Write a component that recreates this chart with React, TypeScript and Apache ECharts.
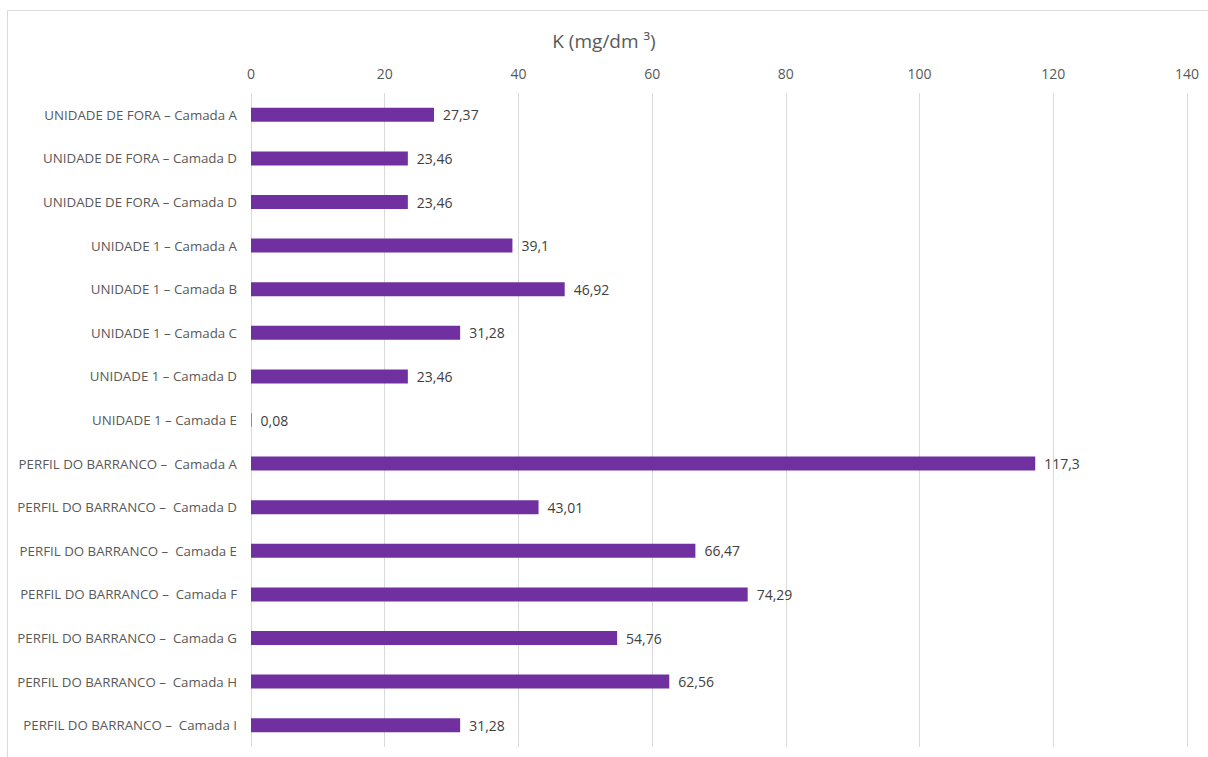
import React, { useEffect, useRef } from "react";
import * as echarts from "echarts";

// Soil samples, top to bottom as listed
const categories: string[] = [
  "UNIDADE DE FORA – Camada A",
  "UNIDADE DE FORA – Camada D",
  "UNIDADE DE FORA – Camada D",
  "UNIDADE 1 – Camada A",
  "UNIDADE 1 – Camada B",
  "UNIDADE 1 – Camada C",
  "UNIDADE 1 – Camada D",
  "UNIDADE 1 – Camada E",
  "PERFIL DO BARRANCO –  Camada A",
  "PERFIL DO BARRANCO –  Camada D",
  "PERFIL DO BARRANCO –  Camada E",
  "PERFIL DO BARRANCO –  Camada F",
  "PERFIL DO BARRANCO –  Camada G",
  "PERFIL DO BARRANCO –  Camada H",
  "PERFIL DO BARRANCO –  Camada I",
];

// Potassium content, mg/dm³
const kValues: number[] = [
  27.37, 23.46, 23.46, 39.1, 46.92, 31.28, 23.46, 0.08, 117.3, 43.01, 66.47,
  74.29, 54.76, 62.56, 31.28,
];

const axisMin = 0;
const axisMax = 140;
const axisStep = 20;

const FONT = "'Open Sans', 'Noto Sans', sans-serif";

export default function App() {
  const ref = useRef<HTMLDivElement>(null);

  useEffect(() => {
    if (!ref.current) return;
    const chart = echarts.init(ref.current, undefined, { renderer: "svg" });
    chart.setOption({
      animation: false,
      backgroundColor: "#ffffff",
      title: {
        text: "K (mg/dm ³)",
        left: "center",
        top: 26,
        textStyle: {
          fontFamily: FONT,
          fontSize: 19,
          fontWeight: "normal",
          color: "#595959",
        },
      },
      graphic: [
        {
          type: "rect",
          shape: { x: 7.5, y: 10.5, width: 1400, height: 900 },
          style: { fill: "none", stroke: "#d9d9d9", lineWidth: 1 },
          silent: true,
        },
      ],
      grid: { left: 251, right: 21, top: 93, bottom: 10 },
      xAxis: {
        type: "value",
        position: "top",
        min: axisMin,
        max: axisMax,
        interval: axisStep,
        axisLine: { show: false },
        axisTick: { show: false },
        axisLabel: {
          fontFamily: FONT,
          fontSize: 14,
          color: "#595959",
          margin: 13,
        },
        splitLine: { lineStyle: { color: "#d9d9d9", width: 1 } },
      },
      yAxis: {
        type: "category",
        inverse: true,
        data: categories,
        axisLine: { show: false },
        axisTick: { show: false },
        axisLabel: {
          fontFamily: FONT,
          fontSize: 13.3,
          color: "#595959",
          margin: 14,
        },
      },
      series: [
        {
          type: "bar",
          data: kValues,
          barWidth: 14,
          itemStyle: { color: "#7030a0" },
          label: {
            show: true,
            position: "right",
            distance: 9,
            fontFamily: FONT,
            fontSize: 14,
            color: "#404040",
            formatter: (p: any) => String(p.value).replace(".", ","),
          },
        },
      ],
    });
    return () => chart.dispose();
  }, []);

  return (
    <div
      ref={ref}
      style={{ position: "fixed", left: 0, top: 0, width: 1208, height: 757 }}
    />
  );
}
